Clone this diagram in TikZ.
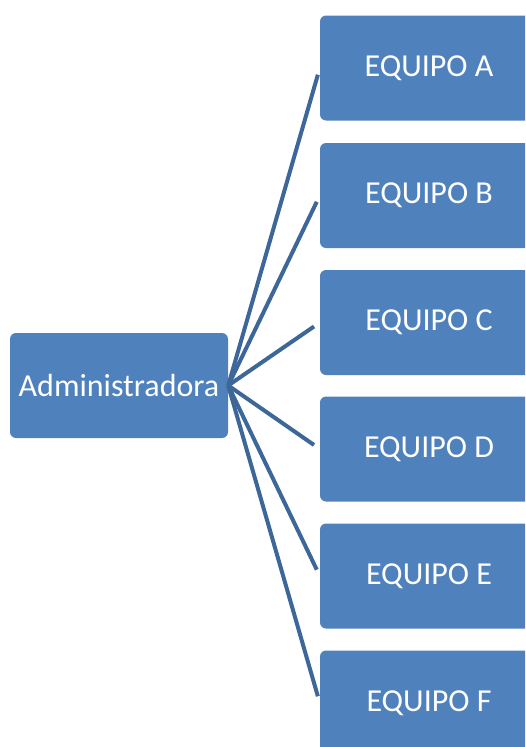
\documentclass[tikz,border=0pt]{standalone}
\usepackage{fontspec}
\setmainfont{Carlito}
\usetikzlibrary{positioning}
\definecolor{boxblue}{HTML}{4F81BD}
\definecolor{linkblue}{HTML}{3E6799}
\tikzset{
  unit/.style={fill=boxblue,rounded corners=6pt,minimum width=218pt,minimum height=105pt,
    inner sep=0pt,text=white,font=\fontsize{32}{38}\selectfont},
  link/.style={draw=linkblue,line width=4pt,shorten >=7pt}
}
\begin{document}
\begin{tikzpicture}[x=1pt,y=-1pt]
  \useasboundingbox (0,0) rectangle (525,747);
  \clip (0,0) rectangle (525,747);
  \node[unit] (adm) at (119,385.5) {Administradora};
  %
  \node[unit] (eqA) at (429,68) {EQUIPO A};
  \node[unit] (eqB) at (429,195.5) {EQUIPO B};
  \node[unit] (eqC) at (429,322.5) {EQUIPO C};
  \node[unit] (eqD) at (429,449) {EQUIPO D};
  \node[unit] (eqE) at (429,576) {EQUIPO E};
  \node[unit] (eqF) at (429,703) {EQUIPO F};
  %
  \foreach \t in {eqA,eqB,eqC,eqD,eqE,eqF}
    \draw[link] (adm.east) -- (\t.west);
\end{tikzpicture}
\end{document}
